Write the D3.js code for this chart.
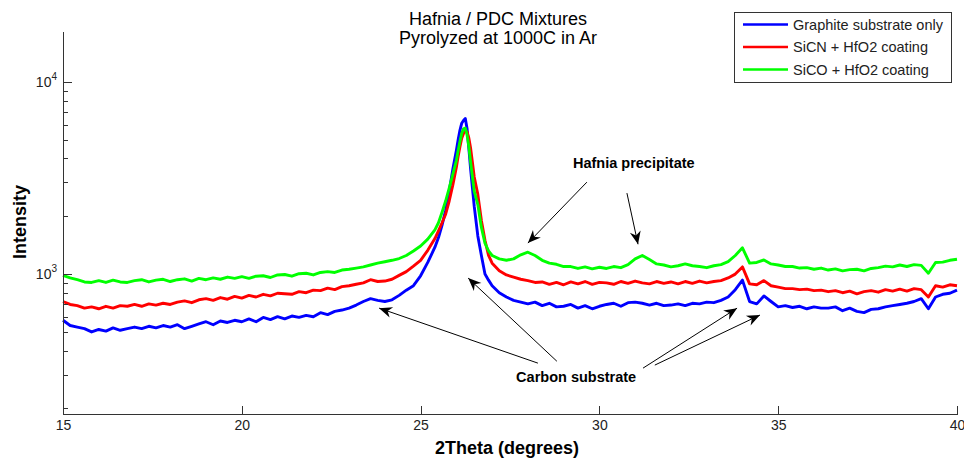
<!DOCTYPE html>
<html>
<head>
<meta charset="utf-8">
<script src="https://cdn.jsdelivr.net/npm/d3@7"></script>
<style>
  body { margin: 0; background: #fff; }
  svg { display: block; font-family: Arial, "Liberation Sans", sans-serif; }
  .axis path, .axis line { stroke: #333; shape-rendering: crispEdges; }
  .axis text { fill: #222; font-size: 14px; font-family: Arial, "Liberation Sans", sans-serif; }
</style>
</head>
<body>
<svg id="chart" width="964" height="461"></svg>
<script>
'use strict'

// 2theta positions (degrees), finer around the graphite peak
const angles = [
  15.0, 15.2, 15.4, 15.6, 15.8, 16.0, 16.2, 16.4, 16.6, 16.8,
  17.0, 17.2, 17.4, 17.6, 17.8, 18.0, 18.2, 18.4, 18.6, 18.8,
  19.0, 19.2, 19.4, 19.6, 19.8, 20.0, 20.2, 20.4, 20.6, 20.8,
  21.0, 21.2, 21.4, 21.6, 21.8, 22.0, 22.2, 22.4, 22.6, 22.8,
  23.0, 23.2, 23.4, 23.6, 23.8, 24.0, 24.2, 24.4, 24.6, 24.8,
  25.0, 25.2, 25.4, 25.5, 25.6, 25.7, 25.8, 25.9, 26.0, 26.05,
  26.1, 26.15, 26.2, 26.25, 26.3, 26.35, 26.4, 26.45, 26.5, 26.6,
  26.7, 26.8, 26.9, 27.0, 27.2, 27.4, 27.6, 27.8, 28.0, 28.2,
  28.4, 28.6, 28.8, 29.0, 29.2, 29.4, 29.6, 29.8, 30.0, 30.2,
  30.4, 30.6, 30.8, 31.0, 31.2, 31.4, 31.6, 31.8, 32.0, 32.2,
  32.4, 32.6, 32.8, 33.0, 33.2, 33.4, 33.6, 33.8, 34.0, 34.2,
  34.4, 34.6, 34.8, 35.0, 35.2, 35.4, 35.6, 35.8, 36.0, 36.2,
  36.4, 36.6, 36.8, 37.0, 37.2, 37.4, 37.6, 37.8, 38.0, 38.2,
  38.4, 38.6, 38.8, 39.0, 39.2, 39.4, 39.6, 39.8, 40.0
]

const graphiteOnly = [
  575, 540, 530, 520, 500, 515, 505, 525, 510, 520,
  530, 520, 535, 525, 540, 530, 545, 520, 535, 550,
  565, 545, 570, 560, 575, 565, 585, 565, 595, 580,
  600, 585, 605, 595, 610, 600, 630, 615, 640, 650,
  665, 690, 720, 745, 730, 720, 735, 775, 825, 870,
  980, 1150, 1380, 1550, 1800, 2150, 2700, 3500, 4400, 5000,
  5600, 6100, 6300, 6450, 5700, 4500, 3500, 2800, 2250, 1580,
  1250, 1000, 930, 870, 800, 760, 730, 715, 700, 715,
  685, 705, 675, 680, 695, 665, 685, 660, 680, 695,
  705, 680, 710, 715, 705, 690, 705, 685, 690, 700,
  685, 705, 700, 715, 710, 730, 760, 830, 930, 720,
  700, 770, 720, 675, 685, 670, 680, 660, 675, 665,
  665, 675, 645, 665, 640, 630, 655, 660, 675, 685,
  695, 705, 720, 745, 660, 760, 785, 795, 825
]

const sicnHfo2 = [
  720, 695, 685, 665, 675, 660, 680, 665, 685, 680,
  695, 680, 700, 690, 705, 695, 715, 725, 710, 735,
  745, 730, 755, 740, 765, 750, 775, 760, 785, 770,
  795, 790, 785, 810, 800, 825, 820, 845, 830, 860,
  870, 885, 900, 935, 915, 920, 940, 985, 1030, 1100,
  1180, 1330, 1530, 1680, 1850, 2050, 2400, 2900, 3600, 4100,
  4600, 5100, 5400, 5550, 5500, 5100, 4500, 3800, 3200, 2600,
  1900, 1500, 1250, 1140, 1040, 990, 965, 940, 925, 905,
  910, 885, 905, 880, 910, 890, 915, 885, 905, 900,
  885, 915, 895, 920, 900, 890, 915, 895, 910, 890,
  915, 895, 920, 900, 915, 925, 955, 1000, 1090, 890,
  880, 925, 870, 855, 840, 840, 830, 835, 820, 825,
  810, 820, 800, 815, 790, 810, 820, 805, 830, 815,
  835, 815, 840, 830, 760, 870, 855, 880, 870
]

const sicoHfo2 = [
  985, 955, 935, 910, 905, 925, 905, 930, 910, 905,
  925, 935, 910, 930, 940, 915, 935, 945, 920, 950,
  935, 955, 940, 965, 950, 970, 950, 975, 980, 960,
  990, 995, 975, 1005, 1010, 990, 1020, 1030, 1020, 1050,
  1060, 1075, 1090, 1115, 1140, 1160, 1180, 1205, 1250, 1320,
  1400, 1520, 1700, 1850, 2100, 2400, 2800, 3300, 3900, 4400,
  4900, 5400, 5700, 5750, 5300, 4600, 3800, 3200, 2700, 2300,
  1750, 1450, 1320, 1250, 1200, 1180, 1200, 1260, 1300, 1250,
  1180, 1140, 1125, 1095, 1095, 1070, 1090, 1065, 1085, 1070,
  1095, 1080, 1120, 1200, 1250, 1190, 1130, 1115, 1090, 1105,
  1130, 1105, 1095, 1080, 1105, 1120, 1160, 1250, 1370, 1140,
  1150, 1185, 1130, 1115, 1095, 1095, 1075, 1080, 1060, 1075,
  1050, 1065, 1040, 1055, 1060, 1040, 1070, 1080, 1100, 1090,
  1115, 1095, 1120, 1110, 1010, 1150, 1155, 1180, 1195
]

const seriesNames = ['Graphite substrate only', 'SiCN + HfO2 coating', 'SiCO + HfO2 coating']
const seriesColors = ['#0000ff', '#ff0000', '#00ff00']
const seriesValues = [graphiteOnly, sicnHfo2, sicoHfo2]

const xTicks = [15, 20, 25, 30, 35, 40]
const yMajor = [1000, 10000]
const yMinor = [200, 300, 400, 500, 600, 700, 800, 900, 2000, 3000, 4000, 5000, 6000, 7000, 8000, 9000]

// annotation arrows in data space: [from2theta, fromI, to2theta, toI]
const hafniaArrows = [[29.65, 3010, 28.0, 1450], [30.77, 2640, 31.08, 1430]]
const carbonArrows = [[28.28, 344, 23.84, 665], [28.81, 352, 26.33, 953], [31.22, 324, 33.85, 665], [31.55, 336, 34.49, 612]]

const svg = d3.select('#chart'),
  margin = { top: 32, right: 7, bottom: 47, left: 63 },
  width = 964 - margin.left - margin.right,
  height = 461 - margin.top - margin.bottom

const x = d3.scaleLinear().domain([15, 40]).range([0, width])
const y = d3.scaleLog().domain([187, 18200]).range([height, 0])

const defs = svg.append('defs')
defs.append('marker')
  .attr('id', 'head')
  .attr('markerUnits', 'userSpaceOnUse')
  .attr('markerWidth', 16).attr('markerHeight', 16)
  .attr('viewBox', '-14 -7 16 14')
  .attr('refX', 0).attr('refY', 0)
  .attr('orient', 'auto')
  .append('path')
  .attr('d', 'M0,0L-13,-5.5L-9,0L-13,5.5Z')
  .attr('fill', '#000')

const g = svg.append('g')
  .attr('transform', 'translate(' + margin.left + ',' + margin.top + ')')

// curves
const line = d3.line()
  .x((d, i) => x(angles[i]))
  .y(d => y(d))

seriesValues.forEach((vals, k) => {
  g.append('path')
    .datum(vals)
    .attr('fill', 'none')
    .attr('stroke', seriesColors[k])
    .attr('stroke-width', 2.9)
    .attr('stroke-linejoin', 'round')
    .attr('d', line)
})

// axes (ticks point inward, no box)
g.append('g')
  .attr('class', 'axis')
  .attr('transform', 'translate(0,' + height + ')')
  .call(d3.axisBottom(x).tickValues(xTicks).tickSizeInner(-8).tickSizeOuter(0).tickPadding(6))

g.append('g')
  .attr('class', 'axis')
  .call(d3.axisLeft(y).tickValues(yMinor).tickFormat('').tickSizeInner(-5).tickSizeOuter(0))
  .select('.domain').remove()

g.append('g')
  .attr('class', 'axis')
  .call(d3.axisLeft(y).tickValues(yMajor).tickFormat('').tickSizeInner(-9).tickSizeOuter(0))
  .select('.domain').attr('d', 'M0.5,0V' + (height + 0.5))

// 10^n labels
yMajor.forEach(v => {
  const t = g.append('text')
    .attr('x', -6)
    .attr('y', y(v) + 5)
    .attr('text-anchor', 'end')
    .attr('fill', '#222')
    .style('font-size', '14px')
  t.append('tspan').text('10')
  t.append('tspan').attr('dy', -7).style('font-size', '10px').text(String(Math.round(Math.log10(v))))
})

// titles
svg.append('text')
  .attr('x', 498).attr('y', 25)
  .attr('text-anchor', 'middle')
  .style('font-size', '18px')
  .text('Hafnia / PDC Mixtures')
svg.append('text')
  .attr('x', 498).attr('y', 44)
  .attr('text-anchor', 'middle')
  .style('font-size', '18px')
  .text('Pyrolyzed at 1000C in Ar')

svg.append('text')
  .attr('x', 507).attr('y', 454)
  .attr('text-anchor', 'middle')
  .style('font-size', '18px').style('font-weight', 'bold')
  .text('2Theta (degrees)')

svg.append('text')
  .attr('text-anchor', 'middle')
  .attr('transform', 'translate(26,222)rotate(-90)')
  .style('font-size', '18px').style('font-weight', 'bold')
  .text('Intensity')

// annotations
const arrow = a => g.append('line')
  .attr('x1', x(a[0])).attr('y1', y(a[1]))
  .attr('x2', x(a[2])).attr('y2', y(a[3]))
  .attr('stroke', '#000').attr('stroke-width', 1)
  .attr('marker-end', 'url(#head)')
hafniaArrows.forEach(arrow)
carbonArrows.forEach(arrow)

g.append('text')
  .attr('x', x(29.26)).attr('y', y(3566))
  .style('font-size', '14.5px').style('font-weight', 'bold')
  .text('Hafnia precipitate')

g.append('text')
  .attr('x', x(29.35)).attr('y', y(274))
  .attr('text-anchor', 'middle')
  .style('font-size', '14.5px').style('font-weight', 'bold')
  .text('Carbon substrate')

// legend
const legend = svg.append('g').attr('transform', 'translate(734,12)')
legend.append('rect')
  .attr('x', 0.5).attr('y', 0.5)
  .attr('width', 217).attr('height', 70)
  .attr('fill', '#fff').attr('stroke', '#333')
seriesNames.forEach((name, k) => {
  const ly = 12.5 + k * 22.5
  legend.append('line')
    .attr('x1', 9).attr('x2', 54)
    .attr('y1', ly).attr('y2', ly)
    .attr('stroke', seriesColors[k]).attr('stroke-width', 2.6)
  legend.append('text')
    .attr('x', 59).attr('y', ly + 5)
    .style('font-size', '14.5px')
    .attr('fill', '#222')
    .text(name)
})
</script>
</body>
</html>
